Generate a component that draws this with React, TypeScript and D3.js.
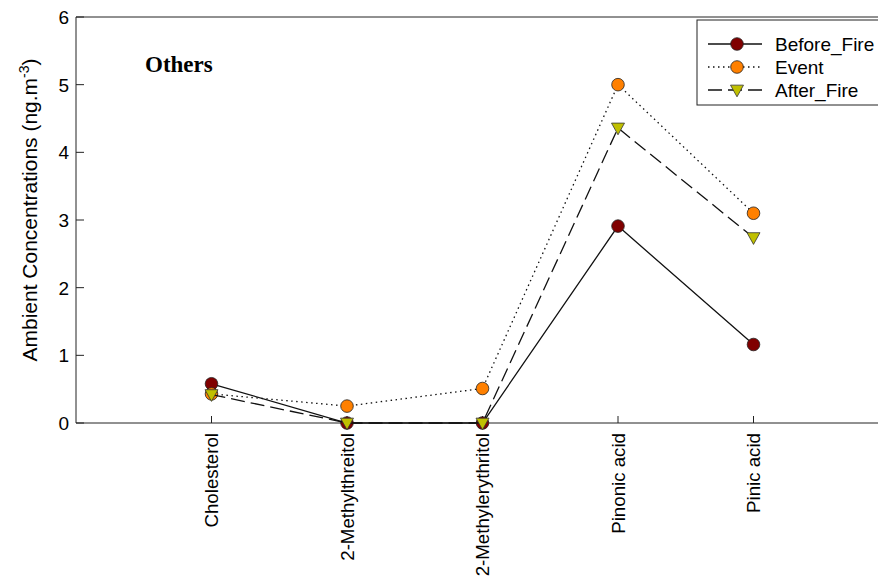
import React from "react";
import * as d3 from "d3";

const categories = ["Cholesterol", "2-Methylthreitol", "2-Methylerythritol", "Pinonic acid", "Pinic acid"];
const beforeFire = [0.58, 0, 0, 2.91, 1.16];
const eventValues = [0.43, 0.25, 0.51, 5.0, 3.1];
const afterFire = [0.42, 0, 0, 4.36, 2.74];
const yTicks = [0, 1, 2, 3, 4, 5, 6];

const W = 878;
const H = 576;
const M = { left: 76, top: 17, bottom: 423, right: 889 };

const series = [
  { name: "Before_Fire", values: beforeFire, fill: "#800000", marker: "circle", dash: "" },
  { name: "Event", values: eventValues, fill: "#ff8000", marker: "circle", dash: "1.5,3.5" },
  { name: "After_Fire", values: afterFire, fill: "#c0c000", marker: "triangle", dash: "14,6" },
];

const font = "Liberation Sans, Arial, sans-serif";

function Marker({ kind, x, y, fill }: { kind: string; x: number; y: number; fill: string }) {
  if (kind === "circle") {
    return <circle cx={x} cy={y} r={6.3} fill={fill} stroke="#222" strokeWidth={0.8} />;
  }
  const s = 6.5;
  const pts = `${x - s},${y - s * 0.75} ${x + s},${y - s * 0.75} ${x},${y + s * 1.05}`;
  return <polygon points={pts} fill={fill} stroke="#333" strokeWidth={0.8} />;
}

export default function App() {
  const x = d3.scaleLinear().domain([0, 6]).range([M.left, M.right]);
  const y = d3.scaleLinear().domain([0, 6]).range([M.bottom, M.top]);
  const line = d3
    .line<number>()
    .x((_, i) => x(i + 1))
    .y((d) => y(d));

  return (
    <svg width={W} height={H} style={{ position: "absolute", left: 0, top: 0, background: "#fff" }}>
      {/* frame */}
      <line x1={M.left} x2={W} y1={M.top} y2={M.top} stroke="#222" strokeWidth={1} />
      <line x1={M.left} x2={W} y1={M.bottom} y2={M.bottom} stroke="#222" strokeWidth={1} />
      <line x1={M.left} x2={M.left} y1={M.top} y2={M.bottom} stroke="#222" strokeWidth={1} />

      {/* y axis */}
      {yTicks.map((t) => (
        <g key={t}>
          <line x1={M.left} x2={M.left + 8} y1={y(t)} y2={y(t)} stroke="#222" />
          <text x={M.left - 7} y={y(t)} dy="0.36em" textAnchor="end" fontFamily={font} fontSize={19}>
            {t}
          </text>
        </g>
      ))}
      <text
        transform={`translate(37,210) rotate(-90)`}
        textAnchor="middle"
        fontFamily={font}
        fontSize={21}
      >
        Ambient Concentrations (ng.m
        <tspan dy={-8} fontSize={14}>
          -3
        </tspan>
        <tspan dy={8}>)</tspan>
      </text>

      {/* x axis */}
      {categories.map((c, i) => (
        <g key={c}>
          <line x1={x(i + 1)} x2={x(i + 1)} y1={M.bottom} y2={M.bottom - 7} stroke="#222" />
          <text
            transform={`translate(${x(i + 1)},${M.bottom + 10}) rotate(-90)`}
            textAnchor="end"
            dy="0.36em"
            fontFamily={font}
            fontSize={18.7}
          >
            {c}
          </text>
        </g>
      ))}

      {/* series */}
      {series.map((s) => (
        <g key={s.name}>
          <path d={line(s.values) ?? ""} fill="none" stroke="#111" strokeWidth={1.3} strokeDasharray={s.dash} />
          {s.values.map((v, i) => (
            <Marker key={i} kind={s.marker} x={x(i + 1)} y={y(v)} fill={s.fill} />
          ))}
        </g>
      ))}

      <text x={145} y={72} fontFamily="Liberation Serif, Times New Roman, serif" fontWeight="bold" fontSize={23}>
        Others
      </text>

      {/* legend */}
      <rect x={697} y={20} width={200} height={85} fill="#fff" stroke="#222" strokeWidth={1} />
      {series.map((s, i) => {
        const ly = 44 + i * 23;
        return (
          <g key={s.name}>
            <line x1={708} x2={762} y1={ly} y2={ly} stroke="#111" strokeWidth={1.3} strokeDasharray={s.dash} />
            <Marker kind={s.marker} x={737} y={ly} fill={s.fill} />
            <text x={775} y={ly} dy="0.36em" fontFamily={font} fontSize={19}>
              {s.name}
            </text>
          </g>
        );
      })}
    </svg>
  );
}
